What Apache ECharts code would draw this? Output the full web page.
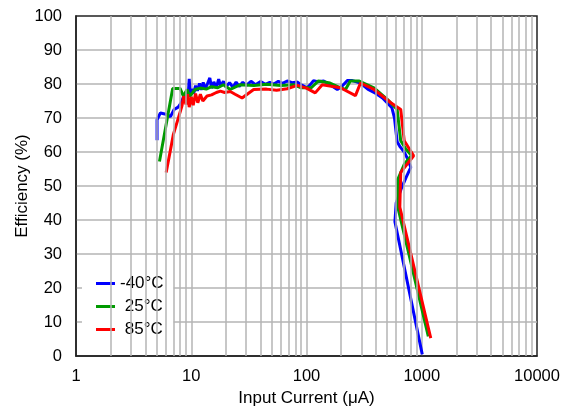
<!DOCTYPE html>
<html>
<head>
<meta charset="utf-8">
<script src="https://cdn.jsdelivr.net/npm/echarts@6/dist/echarts.min.js"></script>
<style>
  html, body { margin: 0; padding: 0; background: #fff; }
  #chart { width: 567px; height: 412px; }
</style>
</head>
<body>
<div id="chart"></div>
<script>
// -40°C
const coldX = [5.05, 5.05, 5.4, 5.9, 6.3, 6.6, 7.1, 7.7, 8.2, 8.6, 8.9, 9.2, 9.4, 9.6, 9.8, 10.1, 10.5, 10.9, 11.3, 11.8,
  12.2, 12.7, 13.2, 13.8, 14.5, 15.0, 15.7, 16.5, 17.3, 18.0, 19.0, 20.0, 21.5, 23, 24.5, 26, 28, 30, 33, 36,
  40, 44, 48, 52, 57, 62, 68, 75, 83, 92, 101, 108, 115, 125, 141, 160, 185, 205, 226, 250,
  294, 340, 400, 457, 551, 580, 612, 650, 705, 754, 803, 730, 660, 600, 585, 1010];
const coldY = [63.5, 69.5, 71.5, 71.2, 70.8, 70.4, 72.5, 73.2, 74.5, 76.5, 75.5, 77.5, 76.2, 81.5, 76.8, 78.5, 77.2, 79.5, 78.0, 80.2,
  78.3, 80.5, 78.6, 80.0, 81.8, 78.8, 80.6, 79.0, 81.4, 79.3, 80.8, 79.2, 80.4, 79.0, 80.6, 79.3, 80.5, 79.6, 80.8, 79.8,
  80.7, 79.9, 80.5, 80.0, 80.8, 80.2, 80.9, 80.4, 80.6, 79.6, 78.9, 79.8, 81.0, 80.7, 80.9, 79.8, 78.4, 79.5, 81.0, 81.0,
  80.3, 78.5, 77.2, 75.9, 73.0, 70.0, 63.0, 61.5, 60.0, 58.0, 55.5, 52.5, 49.0, 45.0, 39.5, 0.5];

// 25°C
const roomX = [5.3, 6.9, 8.0, 8.55, 9.2, 9.7, 10.8, 12, 13.5, 15, 17, 19, 21.8, 26.7, 35, 45, 60, 77, 90, 110,
  127, 160, 197, 218, 240, 284, 385, 505, 612, 657, 730, 815, 705, 620, 620, 1140];
const roomY = [57.2, 78.7, 78.7, 76.4, 78.4, 76.4, 78.4, 78.8, 78.5, 79.2, 78.9, 79.8, 78.4, 79.8, 79.6, 79.9, 79.6, 79.8, 78.9, 78.9,
  80.9, 80.3, 78.9, 78.4, 80.9, 80.9, 78.9, 75.4, 72.5, 63.3, 60.8, 59.0, 56.4, 52.0, 43.8, 5.8];

// 85°C
const hotX = [6.06, 7.0, 8.3, 8.6, 9.0, 9.3, 9.6, 10.0, 10.4, 10.9, 11.4, 12.0, 12.6, 13.7, 15.0, 16.5, 17.9, 19.5, 21.8, 24,
  27.6, 34.8, 45, 55, 67.9, 83.2, 100, 119, 137, 197, 266, 294, 385, 539, 657, 705, 850, 657, 645, 1197];
const hotY = [54.0, 65.2, 73.5, 76.4, 74.0, 77.0, 73.2, 76.2, 73.8, 77.2, 74.5, 77.0, 75.0, 76.5, 76.8, 77.5, 77.9, 77.5, 77.8, 77.0,
  75.9, 78.4, 78.5, 78.2, 78.6, 79.6, 78.8, 77.4, 79.8, 78.9, 76.6, 80.3, 78.4, 74.5, 72.5, 63.3, 58.9, 54.0, 43.8, 5.3];

const seriesNames = ['-40°C', '25°C', '85°C'];
const seriesColors = ['#0000ff', '#009a00', '#ff0000'];

// minor log grid lines (2..9 in each decade)
const minorX = [];
[1, 10, 100, 1000].forEach(d => { for (let k = 2; k <= 9; k++) minorX.push(d * k); });

const zip = (xs, ys) => xs.map((x, i) => [x, ys[i]]);
const gridColor = '#b4b4b4';
const font = '"Liberation Sans", Arial, sans-serif';

const myChart = echarts.init(document.getElementById('chart'));
const option = {
  animation: false,
  grid: {
    left: 76, right: 30, top: 16, bottom: 54,
    show: true, borderColor: '#222', borderWidth: 1.5, backgroundColor: '#fff'
  },
  legend: {
    data: seriesNames,
    orient: 'vertical',
    left: 82, top: 271,
    backgroundColor: '#fff',
    icon: 'rect',
    padding: [4, 10, 4, 14],
    itemWidth: 19, itemHeight: 3, itemGap: 6,
    formatter: name => (name.charAt(0) === '-' ? name : ' ' + name),
    textStyle: { fontSize: 17, color: '#000', fontFamily: font }
  },
  xAxis: {
    type: 'log', logBase: 10, min: 1, max: 10000,
    name: 'Input Current (μA)', nameLocation: 'middle', nameGap: 31,
    nameTextStyle: { fontSize: 17, color: '#000', fontFamily: font },
    axisLine: { lineStyle: { color: '#222', width: 1.5 } },
    axisTick: { show: false },
    axisLabel: { fontSize: 16.5, color: '#000', fontFamily: font, margin: 12,
      formatter: v => String(Math.round(v)) },
    splitLine: { show: true, showMinLine: false, showMaxLine: false,
      lineStyle: { color: gridColor, width: 1.5 } }
  },
  yAxis: {
    type: 'value', min: 0, max: 100, interval: 10,
    name: 'Efficiency (%)', nameLocation: 'middle', nameGap: 45,
    nameMoveOverlap: false,
    nameTextStyle: { fontSize: 17, color: '#000', fontFamily: font },
    axisLine: { show: true, lineStyle: { color: '#222', width: 1.5 } },
    axisTick: { show: false },
    axisLabel: { fontSize: 16.5, color: '#000', fontFamily: font, margin: 14 },
    splitLine: { show: true, showMinLine: false, showMaxLine: false,
      lineStyle: { color: gridColor, width: 1.5 } }
  },
  series: [
    {
      name: 'minor-grid', type: 'line', data: [], z: 1, silent: true,
      markLine: {
        silent: true, symbol: 'none', animation: false,
        label: { show: false },
        lineStyle: { color: gridColor, width: 1.5, type: 'solid' },
        data: minorX.map(v => ({ xAxis: v }))
      }
    },
    ...seriesNames.map((name, i) => ({
      name: name,
      type: 'line',
      z: 3,
      symbol: 'none',
      color: seriesColors[i],
      lineStyle: { width: 3, color: seriesColors[i] },
      data: zip([coldX, roomX, hotX][i], [coldY, roomY, hotY][i])
    }))
  ]
};

try {
  myChart.setOption(option);
} catch (e) {
  console.log(e);
}
</script>
</body>
</html>
